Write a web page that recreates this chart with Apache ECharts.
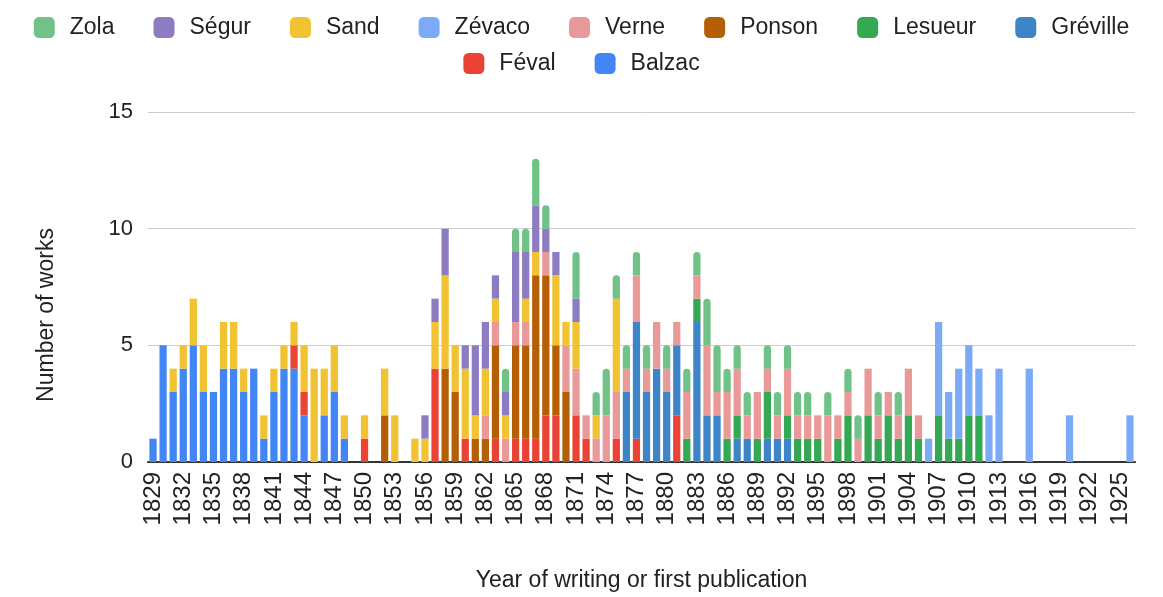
<!DOCTYPE html>
<html>
<head>
<meta charset="utf-8">
<style>
  html, body { margin: 0; padding: 0; background: #fff; }
  #chart-container { width: 1163px; height: 597px; }
</style>
</head>
<body>
<div id="chart-container"></div>
<script src="https://cdn.jsdelivr.net/npm/echarts@6/dist/echarts.min.js"></script>
<script type="text/javascript">
// years 1829 .. 1926
var years = [];
for (var y = 1829; y <= 1926; y++) years.push(String(y));

// one row = 10 years (1829-1838, 1839-1848, ... , 1919-1926)
var balzac = [1,5,3,4,5,3,3,4,4,3, 4,1,3,4,4,2,0,2,3,1, 0,0,0,0,0,0,0,0,0,0, 0,0,0,0,0,0,0,0,0,0,
              0,0,0,0,0,0,0,0,0,0, 0,0,0,0,0,0,0,0,0,0, 0,0,0,0,0,0,0,0,0,0, 0,0,0,0,0,0,0,0,0,0,
              0,0,0,0,0,0,0,0,0,0, 0,0,0,0,0,0,0,0];
var feval  = [0,0,0,0,0,0,0,0,0,0, 0,0,0,0,1,1,0,0,0,0, 0,1,0,0,0,0,0,0,4,0, 0,1,0,0,1,0,1,1,1,2,
              2,0,2,1,0,0,1,0,1,0, 0,0,2,0,0,0,0,0,0,0, 0,0,0,0,0,0,0,0,0,0, 0,0,0,0,0,0,0,0,0,0,
              0,0,0,0,0,0,0,0,0,0, 0,0,0,0,0,0,0,0];
var greville = [0,0,0,0,0,0,0,0,0,0, 0,0,0,0,0,0,0,0,0,0, 0,0,0,0,0,0,0,0,0,0, 0,0,0,0,0,0,0,0,0,0,
              0,0,0,0,0,0,0,3,5,3, 4,3,3,0,6,2,2,0,1,1, 0,1,1,1,0,0,0,0,0,0, 0,0,0,0,0,0,0,0,0,0,
              0,0,0,0,0,0,0,0,0,0, 0,0,0,0,0,0,0,0];
var lesueur = [0,0,0,0,0,0,0,0,0,0, 0,0,0,0,0,0,0,0,0,0, 0,0,0,0,0,0,0,0,0,0, 0,0,0,0,0,0,0,0,0,0,
              0,0,0,0,0,0,0,0,0,0, 0,0,0,1,1,0,0,1,1,0, 1,2,0,1,1,1,1,0,1,2, 0,2,1,2,1,2,1,0,2,1,
              1,2,2,0,0,0,0,0,0,0, 0,0,0,0,0,0,0,0];
var ponson = [0,0,0,0,0,0,0,0,0,0, 0,0,0,0,0,0,0,0,0,0, 0,0,0,2,0,0,0,0,0,4, 3,0,1,1,4,0,4,4,7,6,
              3,3,0,0,0,0,0,0,0,0, 0,0,0,0,0,0,0,0,0,0, 0,0,0,0,0,0,0,0,0,0, 0,0,0,0,0,0,0,0,0,0,
              0,0,0,0,0,0,0,0,0,0, 0,0,0,0,0,0,0,0];
var verne  = [0,0,0,0,0,0,0,0,0,0, 0,0,0,0,0,0,0,0,0,0, 0,0,0,0,0,0,0,0,0,0, 0,0,0,1,1,1,1,1,0,1,
              0,2,2,1,1,2,2,1,2,1, 2,1,1,2,1,3,1,2,2,1, 2,1,1,2,1,1,1,2,1,1, 1,2,1,1,1,2,1,0,0,0,
              0,0,0,0,0,0,0,0,0,0, 0,0,0,0,0,0,0,0];
var zevaco = [0,0,0,0,0,0,0,0,0,0, 0,0,0,0,0,0,0,0,0,0, 0,0,0,0,0,0,0,0,0,0, 0,0,0,0,0,0,0,0,0,0,
              0,0,0,0,0,0,0,0,0,0, 0,0,0,0,0,0,0,0,0,0, 0,0,0,0,0,0,0,0,0,0, 0,0,0,0,0,0,0,1,4,2,
              3,3,2,2,4,0,0,4,0,0, 0,2,0,0,0,0,0,2];
var sand   = [0,0,1,1,2,2,0,2,2,1, 0,1,1,1,1,2,4,2,2,1, 0,1,0,2,2,0,1,1,2,4, 2,3,1,2,1,1,0,1,1,0,
              3,1,2,0,1,0,4,0,0,0, 0,0,0,0,0,0,0,0,0,0, 0,0,0,0,0,0,0,0,0,0, 0,0,0,0,0,0,0,0,0,0,
              0,0,0,0,0,0,0,0,0,0, 0,0,0,0,0,0,0,0];
var segur  = [0,0,0,0,0,0,0,0,0,0, 0,0,0,0,0,0,0,0,0,0, 0,0,0,0,0,0,0,1,1,2, 0,1,3,2,1,1,3,2,2,1,
              1,0,1,0,0,0,0,0,0,0, 0,0,0,0,0,0,0,0,0,0, 0,0,0,0,0,0,0,0,0,0, 0,0,0,0,0,0,0,0,0,0,
              0,0,0,0,0,0,0,0,0,0, 0,0,0,0,0,0,0,0];
var zola   = [0,0,0,0,0,0,0,0,0,0, 0,0,0,0,0,0,0,0,0,0, 0,0,0,0,0,0,0,0,0,0, 0,0,0,0,0,1,1,1,2,1,
              0,0,2,0,1,2,1,1,1,1, 0,1,0,1,1,2,2,1,1,1, 0,1,1,1,1,1,0,1,0,1, 1,0,1,0,1,0,0,0,0,0,
              0,0,0,0,0,0,0,0,0,0, 0,0,0,0,0,0,0,0];

// stacking order bottom -> top
var authors = ['Balzac', 'Féval', 'Gréville', 'Lesueur', 'Ponson', 'Verne', 'Zévaco', 'Sand', 'Ségur', 'Zola'];
var values  = [balzac, feval, greville, lesueur, ponson, verne, zevaco, sand, segur, zola];
var colors  = ['#4285f4', '#ea4335', '#3d85c6', '#34a853', '#b45f06', '#ea9999', '#7baaf7', '#f1c232', '#8e7cc3', '#71c287'];
// legend rows as in the picture
var legendRow1 = ['Zola', 'Ségur', 'Sand', 'Zévaco', 'Verne', 'Ponson', 'Lesueur', 'Gréville'];
var legendRow2 = ['Féval', 'Balzac'];

var dom = document.getElementById('chart-container');
var myChart = echarts.init(dom, null, { renderer: 'canvas' });

var series = authors.map(function (name, i) {
    return {
        name: name,
        type: 'bar',
        stack: 'works',
        data: values[i],
        barWidth: '72%',
        itemStyle: {
            color: colors[i],
            borderRadius: name === 'Zola' ? [4, 4, 0, 0] : 0
        }
    };
});

var legendBase = {
    left: 'center',
    itemWidth: 21,
    itemHeight: 21,
    itemGap: 39,
    itemStyle: { borderRadius: 2 },
    textStyle: { fontSize: 23, color: '#222', padding: [0, 0, 0, 10] }
};

var option = {
    animation: false,
    textStyle: { fontFamily: '"Liberation Sans", Arial, sans-serif' },
    color: colors,
    legend: [
        Object.assign({}, legendBase, { data: legendRow1, top: 11 }),
        Object.assign({}, legendBase, { data: legendRow2, top: 47 })
    ],
    grid: { left: 148, right: 28, top: 112, bottom: 132 },
    xAxis: {
        type: 'category',
        data: years,
        name: 'Year of writing or first publication',
        nameLocation: 'middle',
        nameGap: 107,
        nameTextStyle: { fontSize: 23, color: '#222' },
        axisTick: { show: false },
        axisLine: { lineStyle: { color: '#333', width: 2 } },
        axisLabel: { interval: 2, rotate: 90, fontSize: 24, color: '#222', margin: 10 }
    },
    yAxis: {
        type: 'value',
        min: 0,
        max: 15,
        interval: 5,
        name: 'Number of works',
        nameLocation: 'middle',
        nameGap: 90,
        nameTextStyle: { fontSize: 23, color: '#222', padding: [0, 56, 0, 0] },
        axisLabel: { fontSize: 22, color: '#222', margin: 15 },
        splitLine: { lineStyle: { color: '#cccccc', width: 1 } }
    },
    series: series
};

myChart.setOption(option);
window.addEventListener('resize', myChart.resize);
</script>
</body>
</html>
